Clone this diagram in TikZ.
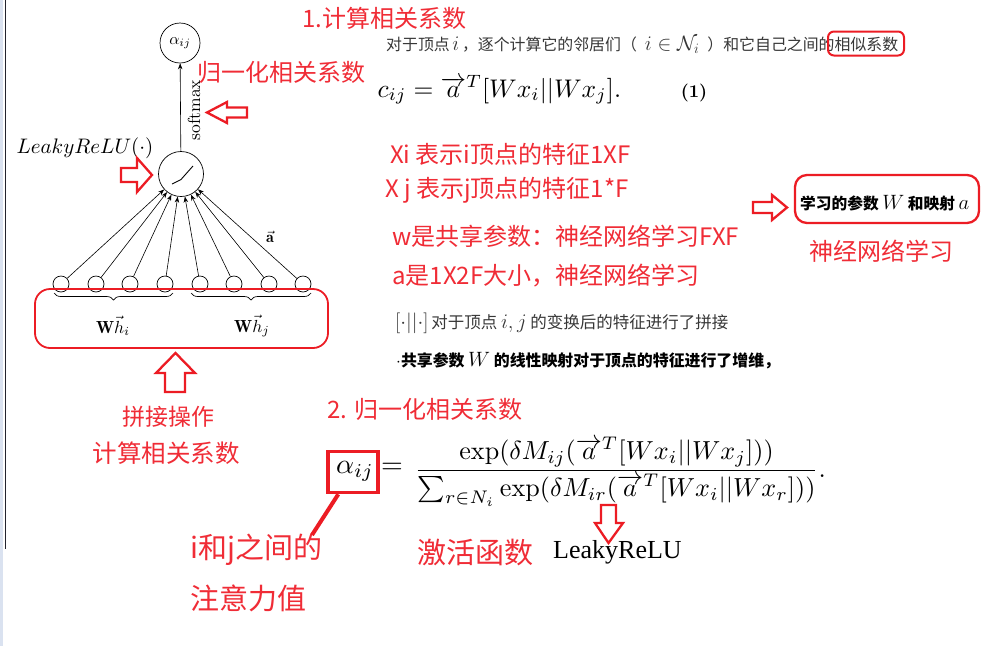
\documentclass[tikz,border=0pt]{standalone}
\usepackage{fontspec}
\usepackage{amsmath}
\usetikzlibrary{decorations.pathreplacing,arrows.meta,calc}
\newfontfamily\cjk{Noto Sans CJK SC}
\newfontfamily\timesf{Liberation Serif}
\newcommand\mth[2]{{\fontsize{#1}{#1}\selectfont$#2$}}
\definecolor{myred}{RGB}{236,28,36}
\definecolor{redtxt}{RGB}{240,44,54}
\definecolor{txtgray}{RGB}{55,55,55}
\definecolor{stripblue}{RGB}{218,226,240}
\tikzset{
  rt/.style={text=redtxt, font=\cjk\fontsize{#1}{#1}\selectfont, inner sep=0, anchor=west},
  neuron/.style={circle, draw, line width=0.7pt, minimum size=16, inner sep=0},
  conn/.style={line width=0.6pt, -{Stealth[length=6pt,width=4.5pt]}},
  harrow/.style={draw=myred, line width=2.3pt, line join=miter},
  redbox/.style={draw=myred, inner sep=0},
}
\begin{document}
\begin{tikzpicture}[x=1pt,y=-1pt]
\useasboundingbox (0,0) rectangle (1008,646);
\fill[white] (0,0) rectangle (1008,646);
\fill[stripblue] (0,0) rectangle (3,646);
\draw[line width=1.5pt, color={rgb,255:red,35;green,35;blue,45}] (5.5,0) -- (5.5,549);

% ---------- network diagram ----------
\node[circle, draw, line width=0.7pt, minimum size=40, inner sep=0] (out) at (180,43) {};
\node[scale=1.6] (alab) at (out) {$\alpha_{ij}$};
\node[circle, draw, line width=0.7pt, minimum size=45, inner sep=0] (mid) at (181,174) {};
\draw[line width=0.9pt] (172,184) -- (181,179.5) -- (193,166);
\draw[conn] (mid) -- (out);
\node[rotate=90, scale=1.75] (softm) at (194,110) {softmax};
\node[scale=2.1] (lrelu) at (85,148) {$LeakyReLU(\cdot)$};

\foreach \i/\x in {1/61,2/96,3/130,4/165,5/200,6/234,7/269,8/303}{
  \node[neuron] (n\i) at (\x,284) {};
  \draw[conn] (n\i) -- (mid);
}
\node[scale=1.6] (avec) at (270,237) {$\vec{\mathbf{a}}$};
\draw[line width=0.7pt, decorate, decoration={brace, mirror, amplitude=7pt}] (54,293) -- (173,293);
\draw[line width=0.7pt, decorate, decoration={brace, mirror, amplitude=7pt}] (191,293) -- (311,293);
\node[scale=1.75] (whi) at (113,326) {$\mathbf{W}\vec{h}_i$};
\node[scale=1.75] (whj) at (252,326) {$\mathbf{W}\vec{h}_j$};
\node[redbox, rounded corners=15, line width=1.8pt, minimum width=293, minimum height=59] (cat) at (181.5,318.5) {};

% hollow arrows
\draw[harrow] (121,168) -- (137,168) -- (137,158) -- (152,175) -- (137,192) -- (137,182) -- (121,182) -- cycle;
\draw[harrow] (247,107.5) -- (227,107.5) -- (227,102) -- (207,112.5) -- (227,123) -- (227,117.5) -- (247,117.5) -- cycle;
\draw[harrow] (165,392) -- (165,373) -- (156,373) -- (175.5,353) -- (195,373) -- (185,373) -- (185,392) -- cycle;
\draw[harrow] (753,202) -- (772,202) -- (772,195) -- (787,207.5) -- (772,220) -- (772,213) -- (753,213) -- cycle;
\draw[harrow] (601,505) -- (616,505) -- (616,523) -- (623,523) -- (608.5,543) -- (595,523) -- (601,523) -- cycle;

% red labels
\node[rt=24] (t1) at (302,18) {1.计算相关系数};
\node[rt=24] (t2) at (197,72) {归一化相关系数};
\node[rt=24] (x1) at (390,154) {Xi 表示i顶点的特征1XF};
\node[rt=24] (x2) at (385,190) {X j 表示j顶点的特征1*F};
\node[rt=24] (x3) at (392,236) {w是共享参数：神经网络学习FXF};
\node[rt=24] (x4) at (392,276) {a是1X2F大小，神经网络学习};
\node[rt=24, anchor=center] (t3) at (881,251) {神经网络学习};
\node[rt=24] (t4) at (327,409) {2. 归一化相关系数};
\node[rt=23, anchor=center] (t5) at (168,417) {拼接操作};
\node[rt=24.5, anchor=center] (t6) at (166,453) {计算相关系数};
\node[rt=29] (t7) at (190,550) {i和j之间的};
\node[rt=29] (t8) at (190,598) {注意力值};
\node[rt=29] (t9) at (417,552) {激活函数};
\node[anchor=west, inner sep=0, font=\timesf\fontsize{26}{26}\selectfont] (lr) at (553,552) {LeakyReLU};

% black text
\node[anchor=west, inner sep=0, text=txtgray, font=\cjk\fontsize{15.9}{18}\selectfont] (l1) at (386,45)
  {对于顶点\,\mth{20}{i}\,，逐个计算它的邻居们（\enspace\mth{20}{i\in\mathcal{N}_i}\enspace）和它自己之间的相似系数};
\node[redbox, rounded corners=6, line width=2pt, minimum width=76, minimum height=24] (simbox) at (866,43.5) {};
\node[anchor=west, inner sep=0, scale=2.55] (f1) at (377,90) {$c_{ij}=\overrightarrow{a}^T[Wx_i||Wx_j].$};
\node[scale=1.8, font=\bfseries] (eq1) at (694,93) {(1)};
\node[anchor=west, inner sep=0, text=txtgray, font=\cjk\fontsize{16.5}{20}\selectfont] (l2) at (395,323)
  {\mth{21}{[\cdot||\cdot]}\,对于顶点 \mth{21}{i,j} 的变换后的特征进行了拼接};
\node[anchor=west, inner sep=0, font=\cjk\bfseries\fontsize{15.9}{19}\selectfont] (l3) at (396,361)
  {\mth{16}{\cdot}共享参数 \mth{22}{W} 的线性映射对于顶点的特征进行了增维，};
\node[redbox, rounded corners=12, line width=2.3pt, minimum width=184, minimum height=48] (learnbox) at (887,199) {};
\node[anchor=west, inner sep=0, font=\cjk\bfseries\fontsize{15.7}{18}\selectfont] (learn) at (800,203)
  {学习的参数 \mth{22}{W} 和映射 \mth{22}{a}};

% formula 2
\node[redbox, line width=3.5pt, minimum width=50, minimum height=41] (abox) at (353,472) {};
\node[scale=2.8] (alpha) at (355,471) {$\alpha_{ij}$};
\node[scale=2.8] (eqs) at (392,468) {$=$};
\node[anchor=west, inner sep=0, scale=2.61] (f2) at (414,472)
  {$\dfrac{\exp(\delta M_{ij}(\overrightarrow{a}^T[Wx_i||Wx_j]))}{\textstyle\sum_{r\in N_i}\exp(\delta M_{ir}(\overrightarrow{a}^T[Wx_i||Wx_r]))}.$};
\coordinate (pend) at (312,535);
\draw[myred, line width=4pt] ($(abox.south west)+(12,0)$) -- (pend);
\end{tikzpicture}
\end{document}
